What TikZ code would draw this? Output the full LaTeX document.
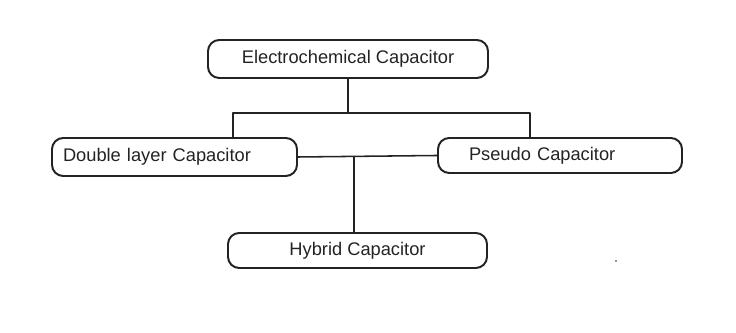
\documentclass[tikz,border=0pt]{standalone}
\usepackage{fontspec}
\setmainfont{Liberation Sans}
\usetikzlibrary{calc}
\definecolor{inkgray}{RGB}{35,35,35}
\tikzset{
    capbox/.style={
        draw=inkgray, line width=1.4pt, rounded corners=0.28cm,
        text=inkgray, font=\fontsize{13}{15}\selectfont,
        inner ysep=0pt
    },
    link/.style={
        draw=inkgray, line width=1.1pt
    }
}
\begin{document}
\begin{tikzpicture}[line cap=round,line join=round]

% --- frame ---
    \useasboundingbox (0,0) rectangle (18.4,8.325);

% --- geometry ---
    \coordinate (split) at (8.70,5.50);  % drop from the top box
    \coordinate (lft)   at (5.825,5.50); % left branch
    \coordinate (rgt)   at (13.25,5.50); % right branch
    \coordinate (mid)   at (8.85,0);     % hybrid branch

% boxes
    \node[capbox, minimum width=7.0cm, minimum height=0.95cm]
        (ec) at (8.70,6.85) {Electrochemical Capacitor};
    \node[capbox, minimum height=0.95cm, inner xsep=0.275cm,
          text width=5.575cm, align=left]
        (dl) at (4.3625,4.40) {Double layer Capacitor};
    \node[capbox, minimum height=0.875cm, inner xsep=0.775cm,
          text width=4.55cm, align=left]
        (pc) at (14.0,4.4375) {Pseudo Capacitor};
    \node[capbox, minimum width=6.475cm, minimum height=0.875cm]
        (hy) at (8.9375,2.0625) {Hybrid Capacitor};

% connectors
    \draw[link] (ec.south) -- (split);
    \draw[link] (lft |- dl.north) -- (lft) -- (rgt) -- (rgt |- pc.north);
    \draw[link] (dl.east) -- (pc.west);
    \draw[link] (mid |- dl.east) -- (mid |- hy.north);

% stray dot
    \fill[inkgray] (15.4,1.8) circle (0.6pt);

  \end{tikzpicture}
\end{document}
